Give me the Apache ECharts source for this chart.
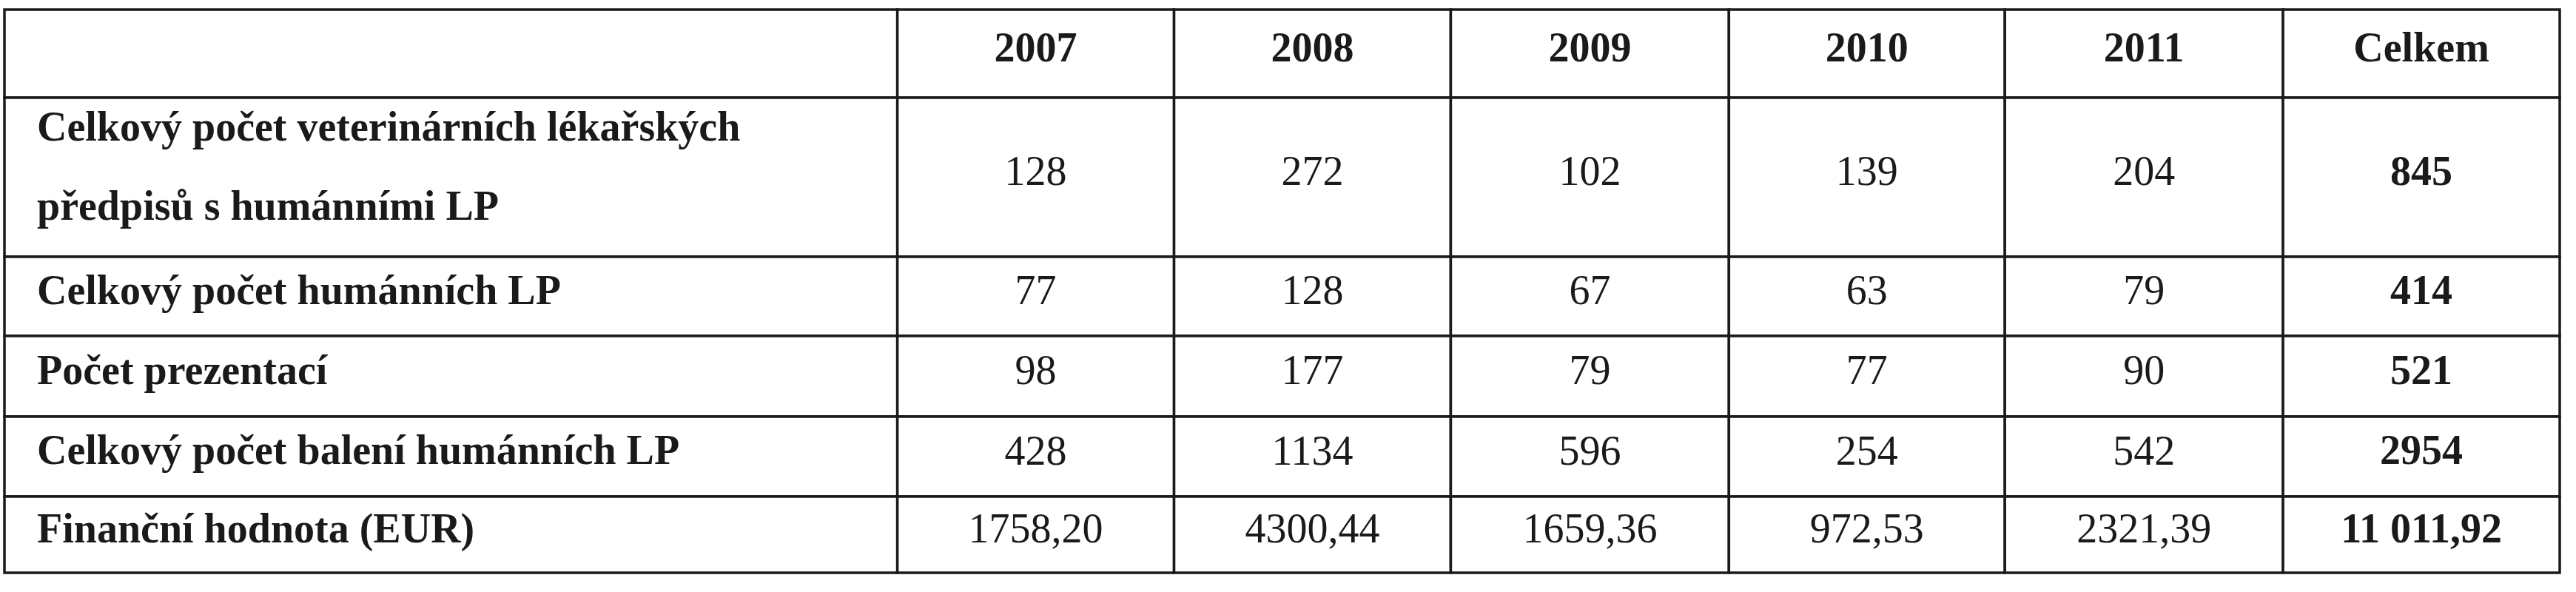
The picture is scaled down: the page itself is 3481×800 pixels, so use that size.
<!DOCTYPE html>
<html><head><meta charset="utf-8">
<script src="https://cdn.jsdelivr.net/npm/echarts@6/dist/echarts.min.js"></script>
<style>html,body{margin:0;padding:0;background:#fff}#c{width:3481px;height:800px}</style>
</head><body><div id="c"></div>
<script>
const headers = ['', '2007', '2008', '2009', '2010', '2011', 'Celkem'];
const rowLabels = ['Celkový počet veterinárních lékařských\npředpisů s humánními LP', 'Celkový počet humánních LP', 'Počet prezentací', 'Celkový počet balení humánních LP', 'Finanční hodnota (EUR)'];
const v2007 = ['128', '77', '98', '428', '1758,20'];
const v2008 = ['272', '128', '177', '1134', '4300,44'];
const v2009 = ['102', '67', '79', '596', '1659,36'];
const v2010 = ['139', '63', '77', '254', '972,53'];
const v2011 = ['204', '79', '90', '542', '2321,39'];
const celkem = ['845', '414', '521', '2954', '11 011,92'];

// layout (column widths / row heights in axis units)
const colW = [1207, 374, 374, 376, 373, 376, 374];
const rowH = [119, 215, 107, 109, 108, 103];
const colX = [0]; colW.forEach((w,i)=>colX.push(colX[i]+w));
const rowY = [0]; rowH.forEach((h,i)=>rowY.push(rowY[i]+h));

const cols = [rowLabels, v2007, v2008, v2009, v2010, v2011, celkem];
const data = [];
headers.forEach((h, c) => data.push([c, 0, h]));
for (let r = 0; r < rowLabels.length; r++) for (let c = 0; c < cols.length; c++) data.push([c, r + 1, cols[c][r]]);

const font = '"Liberation Serif", "Times New Roman", serif';
const chart = echarts.init(document.getElementById('c'));
chart.setOption({
  animation: false,
  backgroundColor: '#fff',
  grid: {left: 6, right: 22, top: 13, bottom: 26},
  xAxis: {type: 'value', min: 0, max: colX[colX.length-1], show: false},
  yAxis: {type: 'value', min: 0, max: rowY[rowY.length-1], inverse: true, show: false},
  series: [{
    type: 'custom',
    data: data,
    renderItem: function (params, api) {
      const c = api.value(0), r = api.value(1);
      const txt = data[params.dataIndex][2];
      const p0 = api.coord([colX[c], rowY[r]]);
      const p1 = api.coord([colX[c+1], rowY[r+1]]);
      const isLabel = c === 0;
      const bold = r === 0 || c === 0 || c === 6;
      const multi = txt.indexOf('\n') >= 0;
      return {
        type: 'group',
        children: [
          {type: 'rect', shape: {x: p0[0], y: p0[1], width: p1[0]-p0[0], height: p1[1]-p0[1]},
           style: {fill: '#fff', stroke: '#1a1a1a', lineWidth: 3.5}},
          {type: 'text', style: {
            text: txt,
            x: isLabel ? p0[0] + 44 : (p0[0]+p1[0])/2,
            y: (p0[1]+p1[1])/2 - (multi ? 10 : 4),
            align: isLabel ? 'left' : 'center',
            verticalAlign: 'middle',
            font: (bold ? 'bold ' : '') + '56px ' + font,
            lineHeight: 107,
            fill: '#1a1a1a'
          }}
        ]
      };
    }
  }]
});
</script></body></html>
